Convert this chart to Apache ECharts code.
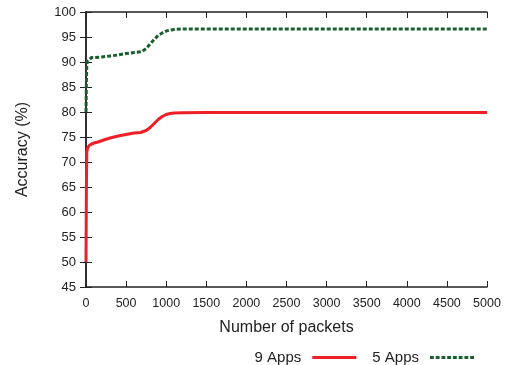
<!DOCTYPE html>
<html><head><meta charset="utf-8">
<script src="https://cdn.jsdelivr.net/npm/echarts@6/dist/echarts.min.js"></script>
<style>html,body{margin:0;padding:0;background:#fff}#c{width:505px;height:365px}</style>
</head><body><div id="c"></div>
<script>
var xTicks = [0, 500, 1000, 1500, 2000, 2500, 3000, 3500, 4000, 4500, 5000];
var nineX = [0, 5, 10, 20, 40, 70, 100, 150, 220, 300, 400, 500, 600, 680, 750, 800, 850, 900, 950, 1000, 1050, 1100, 1200, 1500, 2000, 3000, 4000, 5000];
var nineY = [50, 65, 72, 72.8, 73.3, 73.6, 73.8, 74.0, 74.4, 74.8, 75.2, 75.5, 75.8, 75.9, 76.3, 76.9, 77.7, 78.5, 79.1, 79.5, 79.7, 79.8, 79.85, 79.9, 79.9, 79.9, 79.9, 79.9];
var fiveX = [0, 5, 10, 20, 40, 70, 100, 200, 300, 400, 500, 600, 700, 750, 800, 850, 900, 950, 1000, 1050, 1100, 1200, 1500, 2000, 3000, 4000, 5000];
var fiveY = [80, 86, 89.5, 90.2, 90.6, 90.9, 90.9, 91.0, 91.2, 91.4, 91.7, 91.9, 92.1, 92.7, 93.6, 94.5, 95.3, 95.8, 96.2, 96.4, 96.5, 96.6, 96.6, 96.6, 96.6, 96.6, 96.6];
var nineName = '9 Apps', fiveName = '5 Apps';
function pairs(xs, ys){ return xs.map(function(x,i){return [x, ys[i]];}); }
var font = 'Liberation Sans, Arial, sans-serif';
var red = '#ee1f26', green = '#1b5e2d';
var dotPath = 'path://';
for (var i = 0; i < 8; i++) { dotPath += 'M' + (i*6) + ',0h4v3h-4z'; }
var chart = echarts.init(document.getElementById('c'), null, {renderer:'canvas'});
var axisLine = {show:true, lineStyle:{color:'#222', width:1.5}};
var tick = {show:true, inside:true, length:6, lineStyle:{color:'#222', width:1}};
chart.setOption({
  animation:false,
  grid:{left:86, right:18, top:12, bottom:78, containLabel:false},
  legend:{
    right:26, top:345, align:'right', itemGap:16, itemWidth:44, itemHeight:3,
    textStyle:{fontFamily:font, fontSize:15, color:'#222', padding:[0,6,0,0]},
    data:[{name:nineName, icon:'rect'}, {name:fiveName, icon:dotPath}]
  },
  xAxis:[{
    type:'value', min:0, max:5000, interval:500, position:'bottom',
    name:'Number of packets', nameLocation:'middle', nameGap:33,
    nameTextStyle:{fontFamily:font, fontSize:16, color:'#222'},
    axisLine:axisLine, axisTick:tick, splitLine:{show:false},
    axisLabel:{fontFamily:font, fontSize:12.5, color:'#222', margin:10, formatter:function(v){return String(v);}}
  },{
    type:'value', min:0, max:5000, interval:500, position:'top',
    axisLine:axisLine, axisTick:tick, splitLine:{show:false}, axisLabel:{show:false}
  }],
  yAxis:[{
    type:'value', min:45, max:100, interval:5, position:'left',
    name:'Accuracy (%)', nameLocation:'middle', nameGap:55, nameRotate:90,
    nameTextStyle:{fontFamily:font, fontSize:16, color:'#222'},
    axisLine:axisLine, axisTick:tick, splitLine:{show:false},
    axisLabel:{fontFamily:font, fontSize:13, color:'#222', margin:10}
  },{
    type:'value', min:45, max:100, interval:5, position:'right',
    axisLine:axisLine, axisTick:tick, splitLine:{show:false}, axisLabel:{show:false}
  }],
  series:[{
    name:nineName, type:'line', symbol:'none', data:pairs(nineX, nineY),
    lineStyle:{color:red, width:3}, itemStyle:{color:red}, z:3
  },{
    name:fiveName, type:'line', symbol:'none', data:pairs(fiveX, fiveY),
    lineStyle:{color:green, width:3, type:[4,2]}, itemStyle:{color:green}, z:4
  }]
});
</script></body></html>
